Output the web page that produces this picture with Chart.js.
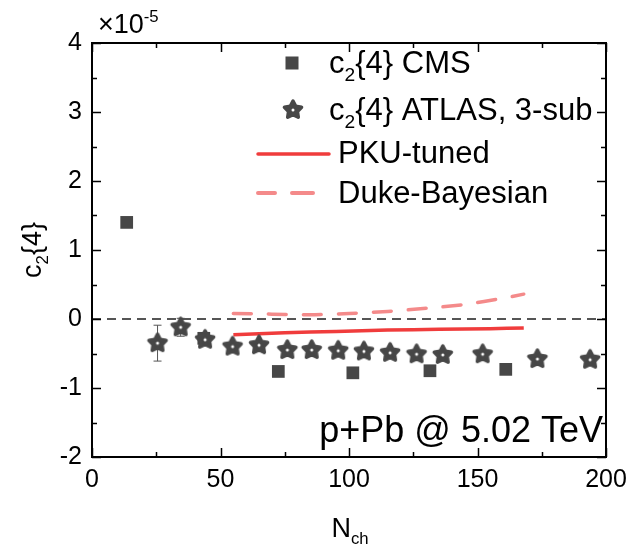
<!DOCTYPE html>
<html>
<head>
<meta charset="utf-8">
<script src="https://cdn.jsdelivr.net/npm/chart.js@4"></script>
<style>
  html, body { margin: 0; padding: 0; background: #fff; }
  #c2chart { display: block; }
</style>
</head>
<body>
<canvas id="c2chart" width="635" height="555"></canvas>
<script>
// c2{4} vs Nch in p+Pb, values in units of 1e-5
const cmsX = [13.5, 43.5, 72.5, 101.5, 131.5, 161];
const cmsY = [1.40, -0.28, -0.76, -0.78, -0.75, -0.73];

const atlasX = [25.5, 34.5, 44, 54.7, 65, 76, 85.5, 95.8, 105.8, 116, 126.3, 136.5, 152, 173.3, 193.8];
const atlasY = [-0.35, -0.12, -0.30, -0.40, -0.38, -0.45, -0.45, -0.46, -0.47, -0.49, -0.51, -0.52, -0.51, -0.58, -0.59];
const atlasErr = [0.26, 0.13, 0.05, 0.04, 0.04, 0.04, 0.04, 0.04, 0.04, 0.04, 0.04, 0.04, 0.04, 0.05, 0.05];

const pkuX = [55, 75, 95, 115, 135, 155, 168];
const pkuY = [-0.23, -0.20, -0.18, -0.16, -0.15, -0.14, -0.13];

const dukeX = [55, 70, 85, 100, 115, 130, 145, 160, 168];
const dukeY = [0.08, 0.07, 0.06, 0.08, 0.11, 0.155, 0.21, 0.30, 0.36];

const zeroX = [0, 200];
const zeroY = [0, 0];

const xTicks = [0, 50, 100, 150, 200];
const yTicks = [-2, -1, 0, 1, 2, 3, 4];

const FONT = '"Liberation Sans", Arial, sans-serif';
const MARK = '#474747';
const RED = '#f03c3c';
const PINK = '#f48a8a';

const pts = (xs, ys) => xs.map((x, i) => ({ x: x, y: ys[i] }));

function makeStar(r) {
    const c = document.createElement('canvas');
    const size = Math.ceil(r * 2 + 8);
    c.width = c.height = size;
    const g = c.getContext('2d');
    const cx = size / 2, cy = size / 2;
    g.beginPath();
    for (let i = 0; i < 10; i++) {
        const rad = i % 2 === 0 ? r : r * 0.52;
        const a = -Math.PI / 2 + i * Math.PI / 5;
        g.lineTo(cx + rad * Math.cos(a), cy + rad * Math.sin(a));
    }
    g.closePath();
    g.fillStyle = MARK;
    g.fill();
    g.lineJoin = 'round';
    g.lineWidth = 3.5;
    g.strokeStyle = MARK;
    g.stroke();
    g.fillStyle = '#fff';
    g.beginPath();
    g.arc(cx, cy, 1.5, 0, Math.PI * 2);
    g.fill();
    return c;
}
const starImg = makeStar(9);

// draw text made of pieces, some of them sub/superscript
function drawRich(ctx, x, y, parts, size) {
    parts.forEach(p => {
        const s = (p.sub || p.sup) ? size * 0.62 : size;
        ctx.font = s + 'px ' + FONT;
        const dy = p.sub ? size * 0.27 : (p.sup ? -size * 0.42 : 0);
        ctx.fillText(p.t, x, y + dy);
        x += ctx.measureText(p.t).width;
    });
    return x;
}
function richWidth(ctx, parts, size) {
    let w = 0;
    parts.forEach(p => {
        const s = (p.sub || p.sup) ? size * 0.62 : size;
        ctx.font = s + 'px ' + FONT;
        w += ctx.measureText(p.t).width;
    });
    return w;
}

const errorBars = {
    id: 'errorBars',
    beforeDatasetsDraw(chart) {
        const { ctx, scales: { x, y } } = chart;
        ctx.save();
        ctx.strokeStyle = '#555';
        ctx.lineWidth = 1;
        atlasX.forEach((v, i) => {
            const px = x.getPixelForValue(v);
            const top = y.getPixelForValue(atlasY[i] + atlasErr[i]);
            const bot = y.getPixelForValue(atlasY[i] - atlasErr[i]);
            ctx.beginPath();
            ctx.moveTo(px, top); ctx.lineTo(px, bot);
            ctx.moveTo(px - 4, top); ctx.lineTo(px + 4, top);
            ctx.moveTo(px - 4, bot); ctx.lineTo(px + 4, bot);
            ctx.stroke();
        });
        ctx.restore();
    }
};

const frameAndText = {
    id: 'frameAndText',
    afterDraw(chart) {
        const { ctx, chartArea: a, scales: { x, y } } = chart;
        ctx.save();
        // frame
        ctx.strokeStyle = '#000';
        ctx.lineWidth = 2;
        ctx.strokeRect(a.left, a.top, a.right - a.left, a.bottom - a.top);
        // inward ticks on all four sides
        ctx.lineWidth = 1.5;
        ctx.beginPath();
        for (let v = 0; v <= 200; v += 25) {
            const px = Math.round(x.getPixelForValue(v)) + 0.5;
            const len = v % 50 === 0 ? 9 : 5;
            ctx.moveTo(px, a.bottom); ctx.lineTo(px, a.bottom - len);
            ctx.moveTo(px, a.top); ctx.lineTo(px, a.top + len);
        }
        for (let v = -2; v <= 4; v += 0.5) {
            const py = Math.round(y.getPixelForValue(v)) + 0.5;
            const len = Number.isInteger(v) ? 9 : 5;
            ctx.moveTo(a.left, py); ctx.lineTo(a.left + len, py);
            ctx.moveTo(a.right, py); ctx.lineTo(a.right - len, py);
        }
        ctx.stroke();

        ctx.fillStyle = '#000';
        ctx.textBaseline = 'alphabetic';
        ctx.textAlign = 'left';

        // multiplier
        drawRich(ctx, 98, 33, [{ t: '\u00d710' }, { t: '-5', sup: true }], 27);

        // y title
        const yParts = [{ t: 'c' }, { t: '2', sub: true }, { t: '{4}' }];
        ctx.save();
        ctx.translate(41, 250);
        ctx.rotate(-Math.PI / 2);
        drawRich(ctx, -richWidth(ctx, yParts, 27) / 2, 0, yParts, 27);
        ctx.restore();

        // x title
        const xParts = [{ t: 'N' }, { t: 'ch', sub: true }];
        drawRich(ctx, 350 - richWidth(ctx, xParts, 27) / 2, 537, xParts, 27);

        // system label
        ctx.font = '36px ' + FONT;
        ctx.textAlign = 'right';
        ctx.fillText('p+Pb @ 5.02 TeV', 603, 442);
        ctx.textAlign = 'left';

        // legend
        ctx.fillStyle = MARK;
        ctx.fillRect(292 - 6.5, 63 - 6.5, 13, 13);
        ctx.drawImage(starImg, 293 - starImg.width / 2, 110 - starImg.height / 2);
        ctx.lineCap = 'round';
        ctx.lineWidth = 3.5;
        ctx.strokeStyle = RED;
        ctx.beginPath(); ctx.moveTo(258, 154); ctx.lineTo(329, 154); ctx.stroke();
        ctx.strokeStyle = PINK;
        ctx.lineWidth = 4;
        ctx.beginPath();
        ctx.moveTo(258, 193); ctx.lineTo(275, 193);
        ctx.moveTo(292, 193); ctx.lineTo(313, 193);
        ctx.stroke();

        ctx.fillStyle = '#000';
        drawRich(ctx, 329, 73, [{ t: 'c' }, { t: '2', sub: true }, { t: '{4} CMS' }], 31);
        drawRich(ctx, 329, 120, [{ t: 'c' }, { t: '2', sub: true }, { t: '{4} ATLAS, 3-sub' }], 31);
        drawRich(ctx, 338, 163, [{ t: 'PKU-tuned' }], 31);
        drawRich(ctx, 338, 203, [{ t: 'Duke-Bayesian' }], 31);
        ctx.restore();
    }
};

new Chart(document.getElementById('c2chart'), {
    type: 'scatter',
    data: {
        datasets: [{
            label: 'zero',
            data: pts(zeroX, zeroY),
            showLine: true,
            borderColor: '#555',
            borderWidth: 2,
            borderDash: [9, 6],
            pointRadius: 0,
            order: 6
        }, {
            label: 'Duke-Bayesian',
            data: pts(dukeX, dukeY),
            showLine: true,
            borderColor: PINK,
            borderWidth: 3.5,
            borderDash: [18, 17],
            borderCapStyle: 'round',
            tension: 0.2,
            pointRadius: 0,
            order: 5
        }, {
            label: 'PKU-tuned',
            data: pts(pkuX, pkuY),
            showLine: true,
            borderColor: RED,
            borderWidth: 3.5,
            tension: 0.3,
            pointRadius: 0,
            order: 4
        }, {
            label: 'c2{4} CMS',
            data: pts(cmsX, cmsY),
            pointStyle: 'rect',
            pointRadius: 9,
            backgroundColor: MARK,
            borderColor: MARK,
            borderWidth: 0,
            order: 2
        }, {
            label: 'c2{4} ATLAS, 3-sub',
            data: pts(atlasX, atlasY),
            pointStyle: starImg,
            order: 1
        }]
    },
    options: {
        responsive: false,
        animation: false,
        layout: { padding: { left: 0, right: 29, top: 43, bottom: 0 } },
        plugins: {
            legend: { display: false },
            tooltip: { enabled: false }
        },
        scales: {
            x: {
                type: 'linear',
                min: 0,
                max: 200,
                afterBuildTicks: s => { s.ticks = xTicks.map(v => ({ value: v })); },
                ticks: { color: '#000', font: { family: FONT, size: 25 }, padding: 8, maxRotation: 0 },
                grid: { display: false, drawTicks: false },
                border: { display: false },
                afterFit: s => { s.height = 98; }
            },
            y: {
                type: 'linear',
                min: -2,
                max: 4,
                afterBuildTicks: s => { s.ticks = yTicks.map(v => ({ value: v })); },
                ticks: { color: '#000', font: { family: FONT, size: 25 }, padding: 10 },
                grid: { display: false, drawTicks: false },
                border: { display: false },
                afterFit: s => { s.width = 92; }
            }
        }
    },
    plugins: [errorBars, frameAndText]
});
</script>
</body>
</html>
